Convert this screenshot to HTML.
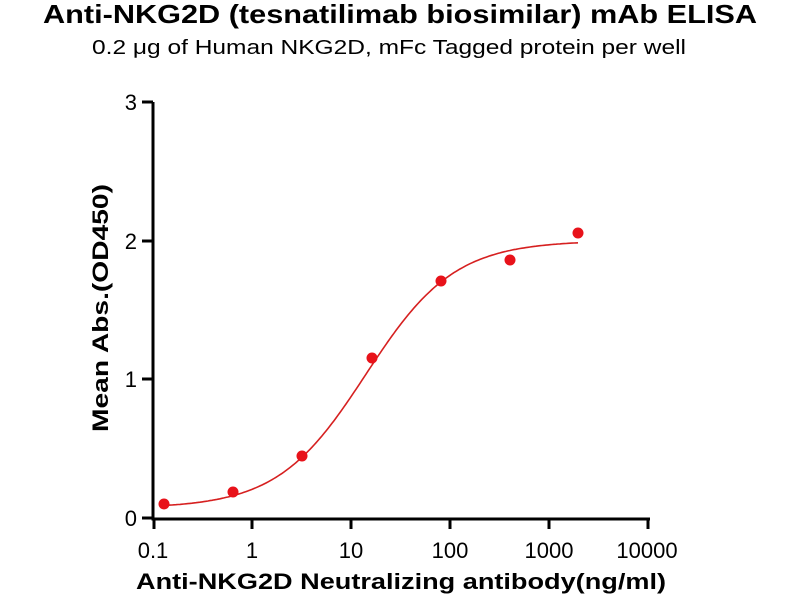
<!DOCTYPE html><html><head><style>body{margin:0;background:#fff}svg{display:block}text{font-family:"Liberation Sans",Arial,sans-serif}</style></head><body>
<svg width="800" height="600" viewBox="0 0 800 600">
<text x="43" y="23" font-size="26" font-weight="bold" textLength="714" lengthAdjust="spacingAndGlyphs">Anti-NKG2D (tesnatilimab biosimilar) mAb ELISA</text>
<text x="92" y="54" font-size="20" textLength="594" lengthAdjust="spacingAndGlyphs">0.2 μg of Human NKG2D, mFc Tagged protein per well</text>
<g stroke="#000" stroke-width="3" fill="none">
<path d="M153 102V519H650"/>
<path d="M142 102H153M142 241H153M142 379H153M142 518H153"/>
<path d="M154 518V529M252 518V529M351 518V529M450 518V529M549 518V529M648 518V529"/>
</g>
<g font-size="22" text-anchor="end"><text x="137" y="110">3</text><text x="137" y="249">2</text><text x="137" y="387">1</text><text x="137" y="526">0</text></g>
<g font-size="22" text-anchor="middle"><text x="153" y="558">0.1</text><text x="252" y="558">1</text><text x="351" y="558">10</text><text x="450" y="558">100</text><text x="549" y="558">1000</text><text x="647" y="558">10000</text></g>
<text x="136" y="589" font-size="22" font-weight="bold" textLength="530" lengthAdjust="spacingAndGlyphs">Anti-NKG2D Neutralizing antibody(ng/ml)</text>
<text transform="translate(108,432) rotate(-90)" font-size="22" font-weight="bold" textLength="248" lengthAdjust="spacingAndGlyphs">Mean Abs.(OD450)</text>
<path id="c" fill="none" stroke="#d62020" stroke-width="1.6"/>
<g fill="#e8121a"><circle cx="164" cy="504" r="5.5"/><circle cx="233" cy="492" r="5.5"/><circle cx="302" cy="456" r="5.5"/><circle cx="372" cy="358" r="5.5"/><circle cx="441" cy="281" r="5.5"/><circle cx="510" cy="260" r="5.5"/><circle cx="578" cy="233" r="5.5"/></g>
</svg>
<script>
var d="",b=0.07,t=2.0,lec=Math.log10(14),h=0.97;
for(var px=164;px<=578;px+=2){var lx=-1+(px-154)/98.7;var y=b+(t-b)/(1+Math.pow(10,(lec-lx)*h));var py=518-y*138.7;d+=(d?"L":"M")+px+" "+py.toFixed(1);}
document.getElementById("c").setAttribute("d",d);
</script>
</body></html>
